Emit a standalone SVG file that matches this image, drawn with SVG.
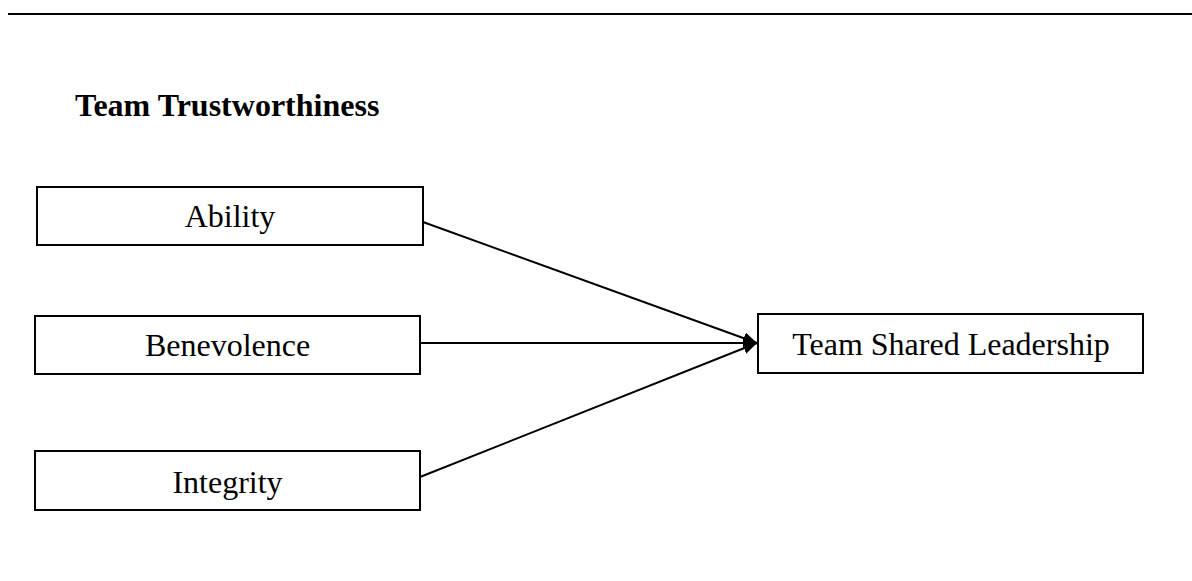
<svg xmlns="http://www.w3.org/2000/svg" width="1192" height="581" viewBox="0 0 1192 581">
<style>
.box{fill:#fff;stroke:#000;stroke-width:2}
.lbl{font-family:"Liberation Serif","Times New Roman",serif;font-size:32px;fill:#000;text-anchor:middle}
.ttl{font-family:"Liberation Serif","Times New Roman",serif;font-size:32px;font-weight:bold;fill:#000}
.edge{stroke:#000;stroke-width:2;fill:none}
</style>
<defs>
<marker id="arr" viewBox="0 0 14 12" refX="14" refY="6" markerWidth="14" markerHeight="12" markerUnits="userSpaceOnUse" orient="auto">
<path d="M0,0 L14,6 L0,12 Z" fill="#000"/>
</marker>
</defs>
<rect width="1192" height="581" fill="#fff"/>
<line x1="8" y1="14" x2="1192" y2="14" stroke="#000" stroke-width="2"/>
<text class="ttl" x="75" y="116">Team Trustworthiness</text>
<g id="connectors">
<line class="edge" x1="423" y1="222" x2="757" y2="343" marker-end="url(#arr)"/>
<line class="edge" x1="420" y1="343" x2="757" y2="343" marker-end="url(#arr)"/>
<line class="edge" x1="420" y1="477" x2="757" y2="343" marker-end="url(#arr)"/>
</g>
<g id="ability">
<rect class="box" x="37" y="187" width="386" height="58"/>
<text class="lbl" x="230" y="227">Ability</text>
</g>
<g id="benevolence">
<rect class="box" x="35" y="316" width="385" height="58"/>
<text class="lbl" x="227.5" y="356">Benevolence</text>
</g>
<g id="integrity">
<rect class="box" x="35" y="451" width="385" height="59"/>
<text class="lbl" x="227.5" y="493">Integrity</text>
</g>
<g id="team-shared-leadership">
<rect class="box" x="758" y="314" width="385" height="59"/>
<text class="lbl" x="951" y="355">Team Shared Leadership</text>
</g>
</svg>
